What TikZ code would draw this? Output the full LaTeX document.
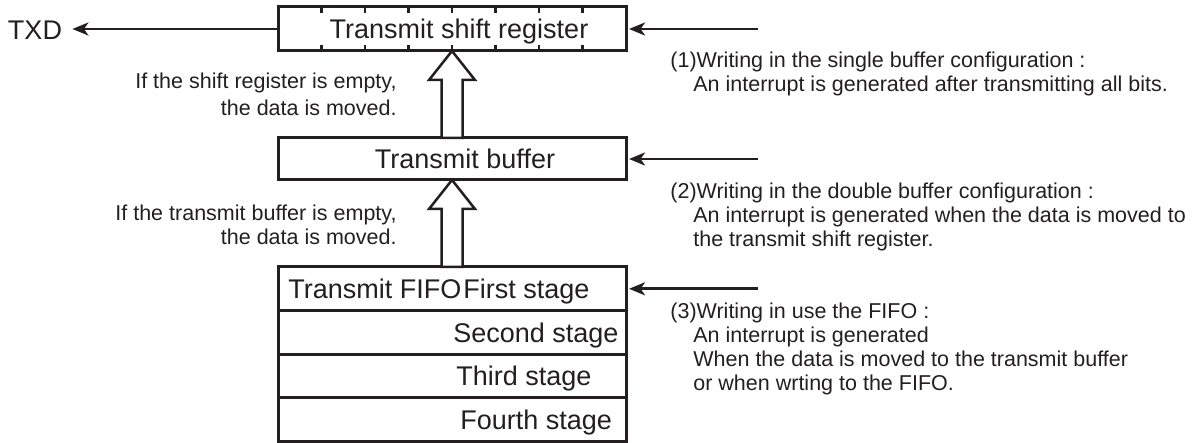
\documentclass[tikz,border=0pt]{standalone}
\usepackage{fontspec}
\setmainfont{Liberation Sans}
\usetikzlibrary{arrows.meta,positioning}
\definecolor{ink}{HTML}{231F20}
\tikzset{
  regbox/.style={draw=ink, line width=1.5pt, minimum width=174pt, outer sep=0pt, inner sep=0pt},
  boxtext/.style={font=\fontsize{13.5}{16}\selectfont, text height=9.67pt, text depth=0pt, inner sep=0pt},
  note/.style={font=\fontsize{10.75}{12}\selectfont, inner sep=0pt},
  wrarrow/.style={draw=ink, line width=1.3pt, -{Stealth[length=8pt,width=6.5pt,inset=2.2pt]}},
  movearrow/.style={draw=ink, fill=white, line width=1.25pt, line join=miter}
}
\begin{document}
\begin{tikzpicture}[x=0.5pt, y=-0.5pt, every node/.style={text=ink}]
\useasboundingbox (0,0) rectangle (1194,443);
% registers
\node[regbox, minimum height=22pt] (sr) at (452,29) {};
\node[regbox, minimum height=21pt] (buf) at (452,159) {};
\node[regbox, minimum height=21.8pt, anchor=north] (f1) at (452,267) {};
\node[regbox, minimum height=21.8pt, below=0pt of f1] (f2) {};
\node[regbox, minimum height=21.8pt, below=0pt of f2] (f3) {};
\node[regbox, minimum height=21.8pt, below=0pt of f3] (f4) {};
\foreach \i in {1,...,7}{
  \draw[ink, line width=1.2pt] (sr.north west)+(\i*43.5,0) -- +(\i*43.5,6);
  \draw[ink, line width=1.2pt] (sr.south west)+(\i*43.5,0) -- +(\i*43.5,-6);
}
\node[boxtext] (srname) at (459,29) {Transmit shift register};
\node[boxtext] (bufname) at (465,159) {Transmit buffer};
\node[boxtext, anchor=west, xshift=5pt] (fifoname) at (f1.west) {Transmit FIFO};
\node[boxtext, anchor=west, xshift=92.5pt] (st1) at (f1.west) {First stage};
\node[boxtext, anchor=west, xshift=87.5pt] (st2) at (f2.west) {Second stage};
\node[boxtext, anchor=west, xshift=89pt] (st3) at (f3.west) {Third stage};
\node[boxtext, anchor=west, xshift=91pt] (st4) at (f4.west) {Fourth stage};
% data moves
\draw[movearrow] (sr.south) -- ++(23,29) -- ++(-12.5,0) |- (buf.north) -- ++(-10.5,0) -- ++(0,-58) -- ++(-12.5,0) -- cycle;
\draw[movearrow] (buf.south) -- ++(23,29) -- ++(-12.5,0) |- (f1.north) -- ++(-10.5,0) -- ++(0,-58) -- ++(-12.5,0) -- cycle;
\node[note, anchor=north east, align=right] (move1) at (397,73) {If the shift register is empty,\\[1.5pt]the data is moved.};
\node[note, anchor=north east, align=right] (move2) at (397,205) {If the transmit buffer is empty,\\the data is moved.};
% output
\node[boxtext] (txd) at (35,30) {TXD};
\draw[wrarrow, shorten >=5pt] (sr.west) -- (sr.west -| txd.east);
% writes
\coordinate (in1) at (758,29);
\coordinate (in2) at (758,159);
\coordinate (in3) at (758,288.8);
\draw[wrarrow, shorten >=1.5pt] (in1) -- (sr.east);
\draw[wrarrow, shorten >=1.5pt] (in2) -- (buf.east);
\draw[wrarrow, shorten >=1.5pt] (in3) -- (f1.east);
\node[note, anchor=north west, align=left] (cfg1) at (670,52) {(1)Writing in the single buffer configuration :\\\hspace*{11.5pt}An interrupt is generated after transmitting all bits.};
\node[note, anchor=north west, align=left] (cfg2) at (670,183) {(2)Writing in the double buffer configuration :\\\hspace*{11.5pt}An interrupt is generated when the data is moved to\\\hspace*{11.5pt}the transmit shift register.};
\node[note, anchor=north west, align=left] (cfg3) at (670,303) {(3)Writing in use the FIFO :\\\hspace*{11.5pt}An interrupt is generated\\\hspace*{11.5pt}When the data is moved to the transmit buffer\\\hspace*{11.5pt}or when wrting to the FIFO.};
\end{tikzpicture}
\end{document}
